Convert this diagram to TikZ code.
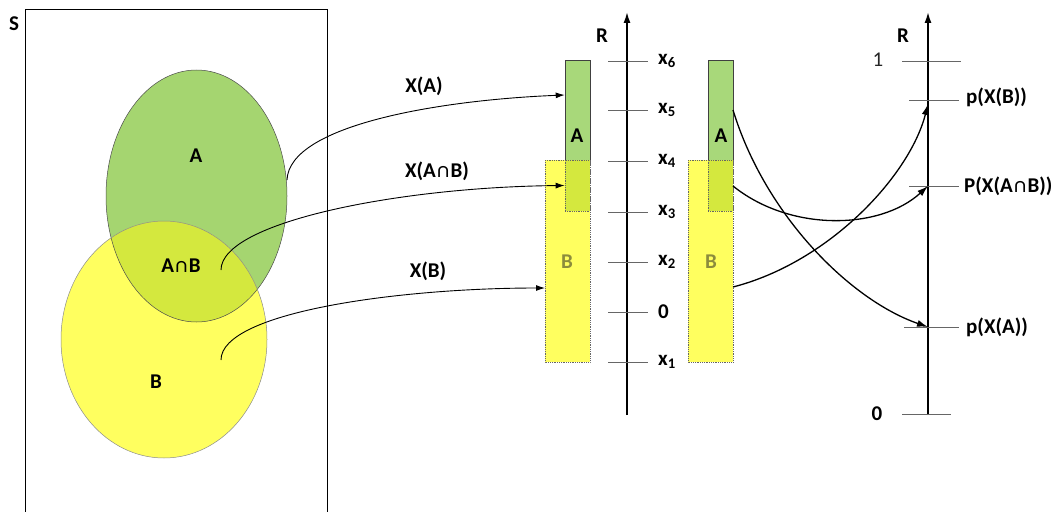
\documentclass[tikz,border=0pt]{standalone}
\usepackage{fontspec}
\setmainfont{Carlito}
\newfontfamily\dejavu{DejaVu Sans}
\usetikzlibrary{arrows.meta}
\definecolor{agreen}{RGB}{165,213,112}
\definecolor{bargreen}{RGB}{168,216,122}
\definecolor{byellow}{RGB}{255,255,95}
\definecolor{abmix}{RGB}{212,232,62}
\definecolor{olive}{RGB}{140,140,60}
\newcommand{\capb}{∩}
\newcommand{\xs}[1]{x\textsubscript{#1}}
\tikzset{
  lbl/.style={font=\bfseries\fontsize{21}{24}\selectfont, inner sep=1pt},
  rlbl/.style={lbl, anchor=west},
  tick/.style={draw=black!60, line width=0.9pt},
  axis/.style={line width=1.6pt, -{Latex[length=11pt,width=7pt]}},
  conn/.style={line width=0.9pt, -{Latex[length=9pt,width=6pt]}},
  connr/.style={line width=1.3pt, -{Latex[length=11pt,width=7pt]}},
  outl/.style={draw=black!70, line width=0.5pt},
}
\begin{document}
\begin{tikzpicture}[x=1pt,y=-1pt]
\useasboundingbox (0,0) rectangle (1062,511);
% sample space
\draw[line width=0.6pt] (25,520) -- (25,9) -- (327,9) -- (327,520);
\node[lbl] (S) at (14,24) {S};
% ellipses
\fill[agreen] (196.5,196) ellipse [x radius=90.5, y radius=126];
\fill[byellow] (164,339.5) ellipse [x radius=103, y radius=118.5];
\begin{scope}
  \clip (196.5,196) ellipse [x radius=90.5, y radius=126];
  \fill[abmix] (164,339.5) ellipse [x radius=103, y radius=118.5];
\end{scope}
\draw[outl] (196.5,196) ellipse [x radius=90.5, y radius=126];
\draw[outl, draw=black!45] (164,339.5) ellipse [x radius=103, y radius=118.5];
\node[lbl] (lA) at (196,156) {A};
\node[lbl] (lAB) at (181,266) {A\capb B};
\node[lbl] (lB) at (156,382) {B};
\coordinate (sA) at (287,180);
\coordinate (sAB) at (221,270);
\coordinate (sB) at (221,360);
% first bars
\fill[byellow] (545,160) rectangle (590,362);
\draw[black!60, densely dotted, line width=0.8pt] (545,160) rectangle (590,362);
\node[draw=black!75, fill=bargreen, line width=0.6pt, minimum width=25pt, minimum height=100pt, inner sep=0pt] (barA1) at (577.5,110) {};
\node[draw=black!60, densely dotted, fill=abmix, line width=0.8pt, minimum width=25pt, minimum height=51pt, inner sep=0pt] (barAB1) at (577.5,185.5) {};
\coordinate (barB1) at (545,288);
\node[lbl] at (577,136) {A};
\node[lbl, text=olive] at (567,262) {B};
% first axis
\coordinate (ax1b) at (627,415);
\coordinate (ax1t) at (627,12);
\draw[axis] (ax1b) -- (ax1t);
\node[lbl] (R1) at (602,36) {R};
\foreach \y/\t in {61/\xs{6},110/\xs{5},161/\xs{4},212/\xs{3},262/\xs{2},312/0,362/\xs{1}}{
  \draw[tick] (608,\y) -- (648,\y);
  \node[rlbl] at (657,\y) {\t};
}
% second bars
\fill[byellow] (688,160) rectangle (733,362);
\draw[black!60, densely dotted, line width=0.8pt] (688,160) rectangle (733,362);
\node[draw=black!75, fill=bargreen, line width=0.6pt, minimum width=25pt, minimum height=100pt, inner sep=0pt] (barA2) at (720.5,110) {};
\node[draw=black!60, densely dotted, fill=abmix, line width=0.8pt, minimum width=25pt, minimum height=51pt, inner sep=0pt] (barAB2) at (720.5,185.5) {};
\node[lbl] at (721,136) {A};
\node[lbl, text=olive] at (711,262) {B};
\coordinate (oA) at (733,110);
\coordinate (oAB) at (733,186);
\coordinate (oB) at (733,287);
% second axis
\coordinate (ax2b) at (928,415);
\coordinate (ax2t) at (928,12);
\draw[axis] (ax2b) -- (ax2t);
\node[lbl] (R2) at (903,36) {R};
\draw[tick] (902,61) -- (961,61);
\node[font=\fontsize{21}{24}\selectfont, text=black!85] (one) at (878,60) {1};
\draw[tick] (909,100) -- (959,100);
\node[rlbl] (pB) at (965,97) {p(X(B))};
\draw[tick] (909,186) -- (959,186);
\node[rlbl] (pAB) at (963,186) {P(X(A\capb B))};
\draw[tick] (904,327) -- (959,327);
\node[rlbl] (pA) at (965,327) {p(X(A))};
\draw[tick] (902,414) -- (951,414);
\node[lbl] (zero) at (877,414) {0};
\coordinate (tB) at (928,104);
\coordinate (tAB) at (928,186);
\coordinate (tA) at (928,327);
% labels of maps
\node[lbl] (XA) at (424,86) {X(A)};
\node[lbl] (XAB) at (437,171) {X(A\capb B)};
\node[lbl] (XB) at (428,271) {X(B)};
% maps
\draw[conn] (sA) .. controls (289,125) and (440,100) .. (barA1.west |- 0,95);
\draw[conn] (sAB) .. controls (221,222) and (400,187) .. (barAB1.west);
\draw[conn] (sB) .. controls (221,312) and (400,288) .. (barB1);
\draw[connr] (oA) .. controls (765,215) and (850,300) .. (tA);
\draw[connr] (oAB) .. controls (790,232) and (880,230) .. (tAB);
\draw[connr] (oB) .. controls (830,262) and (910,175) .. (tB);
\end{tikzpicture}
\end{document}
